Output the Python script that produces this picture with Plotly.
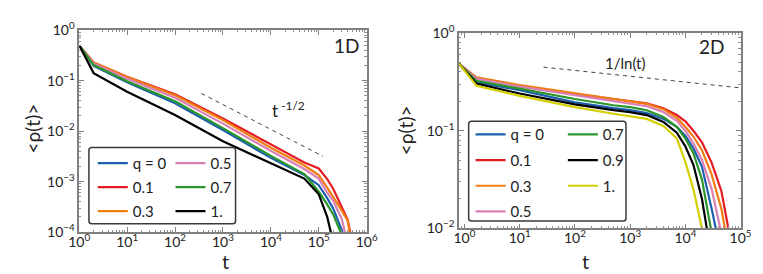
import plotly.graph_objects as go

W, H = 763, 274

# ---------------- 1D panel data ----------------
t_1d = [1, 2, 10, 100, 1000, 10000, 50000, 100000, 150000, 200000, 300000, 400000, 500000]
rho1d_q0 = [0.50, 0.195, 0.093, 0.0355, 0.0105, 0.00295, 0.00135, 0.00085, 0.00047, 0.000295, 0.000112, 5.0e-5, 2.5e-5]
rho1d_q01 = [0.50, 0.229, 0.120, 0.0537, 0.0178, 0.0055, 0.0024, 0.00182, 0.00112, 0.000724, 0.000316, 0.000178, 6.3e-5]
rho1d_q03 = [0.50, 0.229, 0.1175, 0.0513, 0.0166, 0.00468, 0.00209, 0.00135, 0.000759, 0.000501, 0.000269, 0.00017, 5.0e-5]
rho1d_q05 = [0.50, 0.219, 0.1096, 0.0457, 0.0141, 0.00407, 0.00178, 0.00115, 0.000603, 0.000417, 0.000186, 7.1e-5, 2.5e-5]
rho1d_q07 = [0.50, 0.204, 0.0977, 0.0389, 0.01148, 0.00324, 0.00141, 0.00063, 0.000355, 0.000224, 8.9e-5, 4.0e-5, 2.0e-5]
rho1d_q1 = [0.50, 0.141, 0.0603, 0.0209, 0.0063, 0.00229, 0.00115, 0.000562, 0.0002, 6.3e-5, 2.5e-5, 1.0e-5, 5.0e-6]
labels_1d = ["q = 0", "0.1", "0.3", "0.5", "0.7", "1."]
guide_1d_t = [355, 123000]
guide_1d_rho = [0.0558, 0.00316]
xticks_1d = [1, 10, 100, 1000, 10000, 100000, 1000000]
xtext_1d = ["10<sup>0</sup>", "10<sup>1</sup>", "10<sup>2</sup>", "10<sup>3</sup>",
            "10<sup>4</sup>", "10<sup>5</sup>", "10<sup>6</sup>"]
yticks_1d = [1e-4, 1e-3, 1e-2, 1e-1, 1]
ytext_1d = ["10<sup>−4</sup>", "10<sup>−3</sup>", "10<sup>−2</sup>", "10<sup>−1</sup>", "10<sup>0</sup>"]

# ---------------- 2D panel data ----------------
t_2d = [0.8, 1.65, 10, 100, 500, 1000, 2000, 4000, 7000, 10000, 14000, 20000, 30000, 45000, 70000]
rho2d_q0 = [0.482, 0.313, 0.260, 0.195, 0.170, 0.162, 0.151, 0.132, 0.1096, 0.0891, 0.0661, 0.0427, 0.0158, 0.005, 0.0016]
rho2d_q01 = [0.482, 0.348, 0.288, 0.237, 0.211, 0.1995, 0.1905, 0.170, 0.1445, 0.1245, 0.100, 0.0759, 0.0468, 0.024, 0.0063]
rho2d_q03 = [0.482, 0.352, 0.292, 0.240, 0.211, 0.1995, 0.188, 0.166, 0.135, 0.1096, 0.0871, 0.0631, 0.0355, 0.0158, 0.004]
rho2d_q05 = [0.482, 0.341, 0.282, 0.232, 0.1995, 0.1905, 0.178, 0.155, 0.126, 0.100, 0.0741, 0.0501, 0.0251, 0.0089, 0.0025]
rho2d_q07 = [0.482, 0.324, 0.269, 0.211, 0.182, 0.174, 0.162, 0.138, 0.1096, 0.0832, 0.0589, 0.0316, 0.0089, 0.00316, 0.001]
rho2d_q09 = [0.482, 0.304, 0.240, 0.186, 0.162, 0.155, 0.1445, 0.123, 0.0955, 0.0692, 0.0447, 0.02, 0.005, 0.0016, 0.00063]
rho2d_q1 = [0.482, 0.288, 0.227, 0.174, 0.149, 0.141, 0.132, 0.112, 0.0832, 0.0479, 0.0251, 0.01, 0.0025, 0.0008, 0.0003]
labels_2d = ["q = 0", "0.1", "0.3", "0.5", "0.7", "0.9", "1."]
guide_2d_t = [27, 100000]
guide_2d_rho = [0.447, 0.274]
xticks_2d = [1, 10, 100, 1000, 10000, 100000]
xtext_2d = ["10<sup>0</sup>", "10<sup>1</sup>", "10<sup>2</sup>", "10<sup>3</sup>",
            "10<sup>4</sup>", "10<sup>5</sup>"]
yticks_2d = [1e-2, 1e-1, 1]
ytext_2d = ["10<sup>−2</sup>", "10<sup>−1</sup>", "10<sup>0</sup>"]

BLUE, RED, ORANGE, PINK, GREEN, BLACK, YELLOW = (
    "#1c5fae", "#e31b23", "#f07d12", "#d97fb4", "#2a952a", "#000000", "#d3cf00")

FONT = "Lato, 'Noto Sans', sans-serif"

fig = go.Figure()

series_1d = [
    (rho1d_q0, BLUE, "legend"), (rho1d_q01, RED, "legend"), (rho1d_q03, ORANGE, "legend"),
    (rho1d_q05, PINK, "legend2"), (rho1d_q07, GREEN, "legend2"), (rho1d_q1, BLACK, "legend2"),
]
for i, (vals, col, leg) in enumerate(series_1d):
    fig.add_trace(go.Scatter(x=t_1d, y=vals, mode="lines", name=labels_1d[i],
                             line=dict(color=col, width=2.2), legend=leg,
                             legendgroup="a%d" % i, xaxis="x", yaxis="y"))

series_2d = [
    (rho2d_q0, BLUE, "legend3"), (rho2d_q01, RED, "legend3"), (rho2d_q03, ORANGE, "legend3"),
    (rho2d_q05, PINK, "legend3"), (rho2d_q07, GREEN, "legend4"), (rho2d_q09, BLACK, "legend4"),
    (rho2d_q1, YELLOW, "legend4"),
]
for i, (vals, col, leg) in enumerate(series_2d):
    fig.add_trace(go.Scatter(x=t_2d, y=vals, mode="lines", name=labels_2d[i],
                             line=dict(color=col, width=2.2), legend=leg,
                             legendgroup="b%d" % i, xaxis="x2", yaxis="y2"))

fig.add_trace(go.Scatter(x=guide_1d_t, y=guide_1d_rho, mode="lines", showlegend=False,
                         line=dict(color="#444", width=1, dash="4px,4px"), xaxis="x", yaxis="y"))
fig.add_trace(go.Scatter(x=guide_2d_t, y=guide_2d_rho, mode="lines", showlegend=False,
                         line=dict(color="#444", width=1, dash="4px,4px"), xaxis="x2", yaxis="y2"))

axis_style = dict(
    type="log", showline=True, linecolor="#808080", linewidth=1.5, mirror="ticks",
    ticks="inside", ticklen=5, tickwidth=1, tickcolor="#808080", showgrid=False,
    zeroline=False, tickmode="array",
    tickfont=dict(size=14, color="#222", family=FONT),
    minor=dict(ticks="inside", ticklen=2.5, tickcolor="#909090", dtick="D1", showgrid=False),
)


def px_x(p):
    return p / W


def px_y(p):
    return 1 - p / H


fig.update_layout(
    width=W, height=H, margin=dict(l=0, r=0, t=0, b=0),
    paper_bgcolor="white", plot_bgcolor="white",
    font=dict(family=FONT, color="#222"),
    xaxis=dict(domain=[px_x(62), px_x(358)], range=[0, 6], anchor="y",
               tickvals=xticks_1d, ticktext=xtext_1d, ticklabelstandoff=-4, **axis_style),
    yaxis=dict(domain=[px_y(229), px_y(12)], range=[-4, 0], anchor="x",
               tickvals=yticks_1d, ticktext=ytext_1d, **axis_style),
    xaxis2=dict(domain=[px_x(453), px_x(743)], range=[-0.1, 5], anchor="y2",
                tickvals=xticks_2d, ticktext=xtext_2d, ticklabelstandoff=-4, **axis_style),
    yaxis2=dict(domain=[px_y(225), px_y(15)], range=[-2, 0], anchor="x2",
                tickvals=yticks_2d, ticktext=ytext_2d, **axis_style),
)

leg_common = dict(xanchor="left", yanchor="top", bgcolor="rgba(0,0,0,0)", borderwidth=0,
                  font=dict(size=15, family=FONT, color="#222"), itemwidth=30,
                  orientation="v")
fig.update_layout(
    legend=dict(x=px_x(76), y=px_y(137.5), tracegroupgap=1.5, **leg_common),
    legend2=dict(x=px_x(156), y=px_y(137.5), tracegroupgap=1.5, **leg_common),
    legend3=dict(x=px_x(465), y=px_y(106.5), tracegroupgap=3.2, **leg_common),
    legend4=dict(x=px_x(560), y=px_y(106.5), tracegroupgap=3.2, **leg_common),
)


def rounded_box(x0, y0, x1, y1, r=3):
    # pixel coords (top-left origin) -> paper path with rounded corners
    X0, X1 = px_x(x0), px_x(x1)
    Yt, Yb = px_y(y0), px_y(y1)
    rx, ry = r / W, r / H
    return (f"M{X0+rx},{Yt} L{X1-rx},{Yt} Q{X1},{Yt} {X1},{Yt-ry} "
            f"L{X1},{Yb+ry} Q{X1},{Yb} {X1-rx},{Yb} L{X0+rx},{Yb} "
            f"Q{X0},{Yb} {X0},{Yb+ry} L{X0},{Yt-ry} Q{X0},{Yt} {X0+rx},{Yt} Z")


for box in [(72, 138, 223, 220), (463, 110, 625, 217)]:
    fig.add_shape(type="path", xref="paper", yref="paper", path=rounded_box(*box),
                  line=dict(color="#3a3a3a", width=1.5), fillcolor="white", layer="above")

annots = [
    ("1D", 337, 28, 19, 0),
    ("t<sup> -1/2</sup>", 277, 97, 17, 0),
    ("2D", 713, 30, 19, 0),
    ("1/ln(t)", 625, 47, 15, 0),
    ("&lt;ρ(t)&gt;", 14, 118, 19, -90),
    ("&lt;ρ(t)&gt;", 398, 120, 19, -90),
    ("t", 213, 260, 20, 0),
    ("t", 583, 260, 20, 0),
]
for text, x, y, size, ang in annots:
    fig.add_annotation(text=text, x=px_x(x), y=px_y(y), xref="paper", yref="paper",
                       showarrow=False, xanchor="center", yanchor="middle", textangle=ang,
                       font=dict(size=size, family=FONT, color="#222"))

fig.write_html("out.html")
